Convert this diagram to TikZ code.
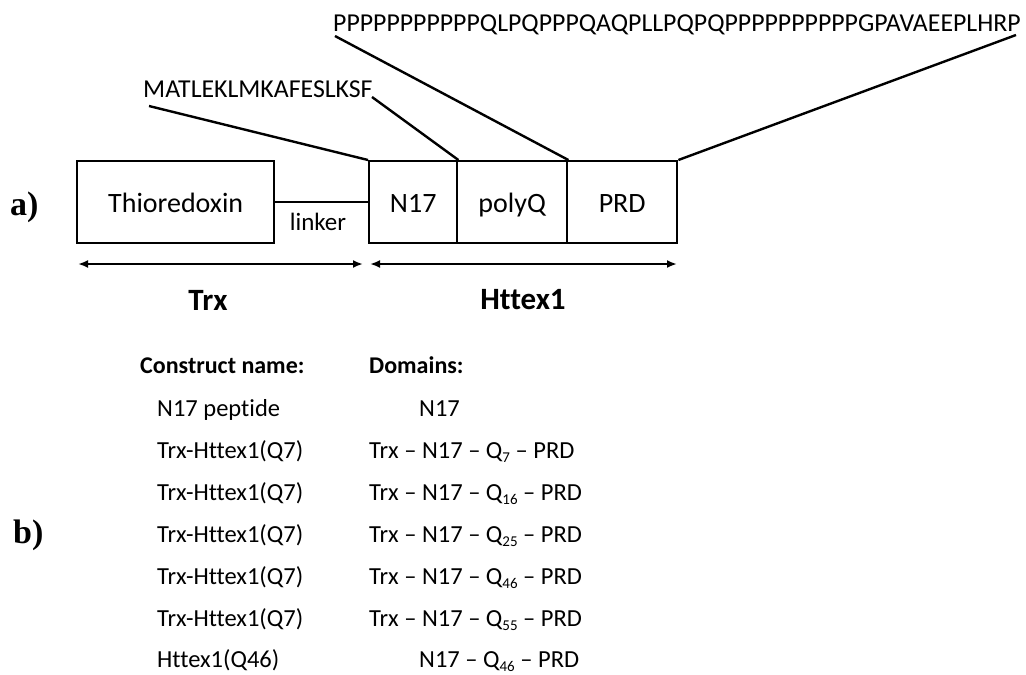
\documentclass[tikz,border=0pt]{standalone}
\usepackage{fontspec}
\setmainfont{Carlito}[Ligatures={NoCommon,NoRequired,NoContextual}]
\newfontfamily\labfont{Liberation Serif}
\usetikzlibrary{arrows.meta}
\newcommand\qsub[1]{\raisebox{-4pt}{\fontsize{15}{15}\selectfont #1}}
\begin{document}
\begin{tikzpicture}[x=1pt,y=-1pt,
  box/.style={draw, line width=2.4pt, minimum height=82pt, inner sep=0pt, text height=22pt, text depth=2pt, font=\fontsize{28}{30}\selectfont, anchor=north west},
  conn/.style={line width=2.4pt},
  span/.style={line width=2.4pt, {Latex[length=10pt,width=8pt]}-{Latex[length=10pt,width=8pt]}},
  seq/.style={font=\fontsize{25.8}{27}\selectfont, anchor=base west, inner sep=0pt},
  tab/.style={font=\fontsize{24.5}{26}\selectfont, anchor=base west, inner sep=0pt},
  tabh/.style={tab, font=\fontsize{24}{26}\selectfont\bfseries},
  big/.style={font=\fontsize{31}{33}\selectfont\bfseries},
  lab/.style={font=\fontsize{34}{36}\selectfont\labfont\bfseries, anchor=base west, inner sep=0pt}
]
\useasboundingbox (0,0) rectangle (1026,675);

% boxes
\node[box, minimum width=197pt] (thio) at (76,160) {Thioredoxin};
\node[box, minimum width=88pt] (n17) at (368,160) {N17};
\node[box, minimum width=110pt] (polyq) at (456,160) {polyQ};
\node[box, minimum width=110pt] (prd) at (566,160) {PRD};
\draw[conn] (thio.east) -- (n17.west);
\node[font=\fontsize{25}{27}\selectfont] (linker) at (318,222) {linker};

% sequences
\node[seq] (seqn) at (143,97) {MATLEKLMKAFESLKSF};
\node[seq] (seqp) at (333,31) {PPPPPPPPPPPQLPQPPPQAQPLLPQPQPPPPPPPPPPGPAVAEEPLHRP};
\coordinate (l1) at (149,106);
\coordinate (l2) at (372,97);
\coordinate (l3) at (335,36);
\coordinate (l4) at (1016,35);
\draw[conn] (l1) -- (n17.north west);
\draw[conn] (l2) -- (n17.north east);
\draw[conn] (l3) -- (polyq.north east);
\draw[conn] (l4) -- (prd.north east);

% spans
\coordinate (t1) at (78,264);
\coordinate (t2) at (363,264);
\coordinate (h1) at (370,264);
\coordinate (h2) at (677,264);
\draw[span] (t1) -- (t2);
\draw[span] (h1) -- (h2);
\node[big] (trx) at (208,300) {Trx};
\node[big] (httex) at (523,300) {Httex1};

% panel labels
\node[lab] (a) at (10,215) {a)};
\node[lab] (b) at (13,543) {b)};

% table
\node[tabh] (ch) at (140,373) {Construct name:};
\node[tabh] (dh) at (369,373) {Domains:};
\node[tab] (c1) at (157,416) {N17 peptide};
\node[tab] (d1) at (419,416) {N17};
\node[tab] (c2) at (157,458) {Trx-Httex1(Q7)};
\node[tab] (d2) at (369,458) {Trx – N17 – Q\qsub{7} – PRD};
\node[tab] (c3) at (157,500) {Trx-Httex1(Q7)};
\node[tab] (d3) at (369,500) {Trx – N17 – Q\qsub{16} – PRD};
\node[tab] (c4) at (157,542) {Trx-Httex1(Q7)};
\node[tab] (d4) at (369,542) {Trx – N17 – Q\qsub{25} – PRD};
\node[tab] (c5) at (157,584) {Trx-Httex1(Q7)};
\node[tab] (d5) at (369,584) {Trx – N17 – Q\qsub{46} – PRD};
\node[tab] (c6) at (157,626) {Trx-Httex1(Q7)};
\node[tab] (d6) at (369,626) {Trx – N17 – Q\qsub{55} – PRD};
\node[tab] (c7) at (157,667) {Httex1(Q46)};
\node[tab] (d7) at (419,667) {N17 – Q\qsub{46} – PRD};
\end{tikzpicture}
\end{document}
